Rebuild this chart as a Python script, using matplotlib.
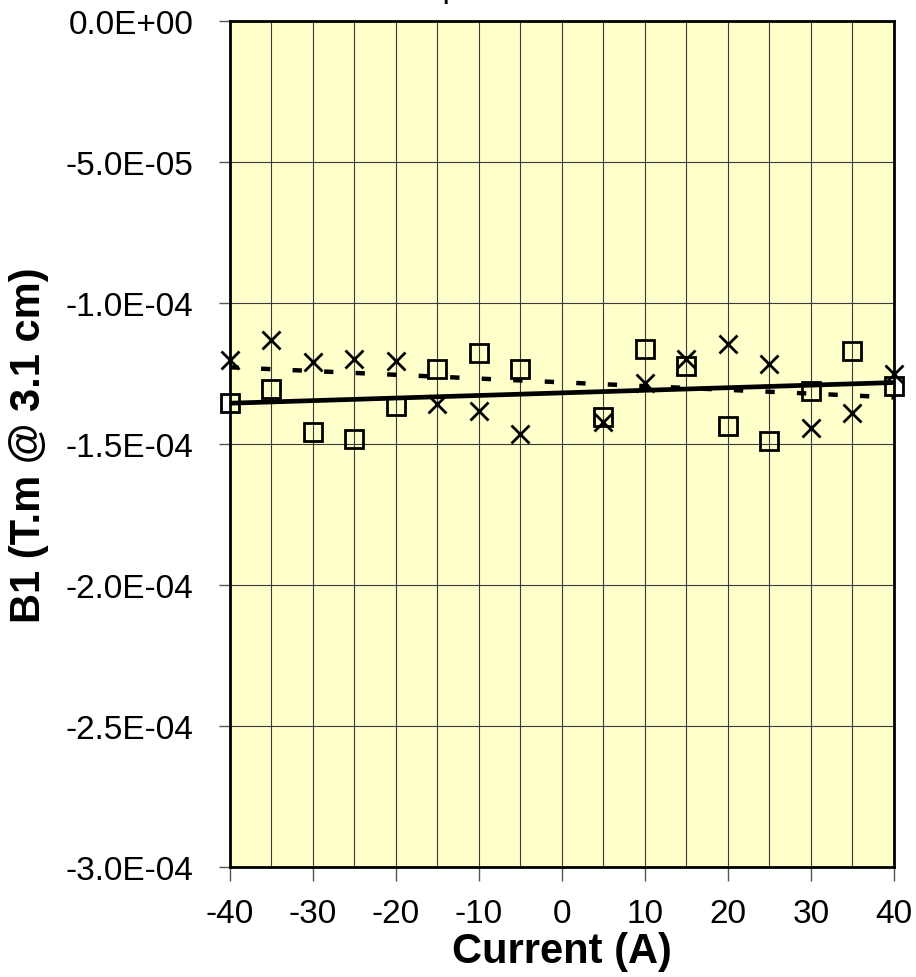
import numpy as np
import matplotlib
matplotlib.use("Agg")
import matplotlib.pyplot as plt
from matplotlib.ticker import FuncFormatter, MultipleLocator

plt.rcParams['font.family'] = ['Liberation Sans', 'DejaVu Sans']
plt.rcParams['axes.unicode_minus'] = False

# Measured B1 at 3.1 cm, two runs over the current sweep (no point at 0 A)
current = [-40, -35, -30, -25, -20, -15, -10, -5, 5, 10, 15, 20, 25, 30, 35, 40]
b1_squares = [-1.353e-4, -1.306e-4, -1.459e-4, -1.482e-4, -1.366e-4, -1.233e-4,
              -1.177e-4, -1.233e-4, -1.404e-4, -1.162e-4, -1.223e-4, -1.436e-4,
              -1.488e-4, -1.312e-4, -1.171e-4, -1.295e-4]
b1_crosses = [-1.203e-4, -1.130e-4, -1.210e-4, -1.197e-4, -1.207e-4, -1.357e-4,
              -1.384e-4, -1.465e-4, -1.422e-4, -1.283e-4, -1.197e-4, -1.145e-4,
              -1.217e-4, -1.445e-4, -1.389e-4, -1.250e-4]


def sci_label(v, pos):
    if abs(v) < 1e-12:
        v = 0.0
    return f"{v:.1E}"


fig = plt.figure(figsize=(9.16, 9.78), dpi=100)
ax = fig.add_axes([229.5 / 916, 1 - 868 / 978, (894 - 229.5) / 916, (868 - 22) / 978])
ax.set_facecolor('#FFFFCC')

x = np.array(current, dtype=float)

# linear trend lines for each run
xfit = np.array([-40.0, 40.0])
p_sq = np.polyfit(x, b1_squares, 1)
p_cr = np.polyfit(x, b1_crosses, 1)
ax.plot(xfit, np.polyval(p_sq, xfit), color='black', lw=3.4, solid_capstyle='butt', zorder=3)
ax.plot(xfit, np.polyval(p_cr, xfit), color='black', lw=3.2, dashes=(2.1, 5.0),
        dash_capstyle='butt', zorder=3)

ax.plot(x, b1_squares, linestyle='none', marker='s', markersize=13,
        markerfacecolor='none', markeredgecolor='black', markeredgewidth=2.0, zorder=4,
        clip_on=False)
ax.plot(x, b1_crosses, linestyle='none', marker='x', markersize=13,
        markeredgecolor='black', markeredgewidth=2.0, zorder=4, clip_on=False)

ax.set_xlim(-40, 40)
ax.set_ylim(-3.0e-4, 0.0)
ax.xaxis.set_major_locator(MultipleLocator(10))
ax.xaxis.set_minor_locator(MultipleLocator(5))
ax.yaxis.set_major_locator(MultipleLocator(5e-5))
ax.yaxis.set_major_formatter(FuncFormatter(sci_label))

ax.grid(True, which='both', axis='x', color='#3a3a3a', lw=0.8)
ax.grid(True, which='major', axis='y', color='#3a3a3a', lw=0.8)
ax.set_axisbelow(True)

ax.tick_params(axis='both', which='major', labelsize=24, width=1.0, color='#555555')
ax.tick_params(axis='x', which='major', length=10, pad=12, direction='out')
ax.tick_params(axis='x', which='minor', length=0)
ax.tick_params(axis='y', which='major', length=8, pad=18, direction='out')

for s in ax.spines.values():
    s.set_linewidth(2.0)
    s.set_color('black')

ax.set_xlabel('Current (A)', fontsize=30, fontweight='bold', labelpad=2)
ax.set_ylabel('B1 (T.m @ 3.1 cm)', fontsize=30, fontweight='bold', labelpad=12)

# title sits mostly above the canvas edge
fig.text(0.5, 1.0 + 3 / 978, 'Dipole', ha='center', va='baseline', fontsize=24)

fig.savefig('out.png', dpi=100)
